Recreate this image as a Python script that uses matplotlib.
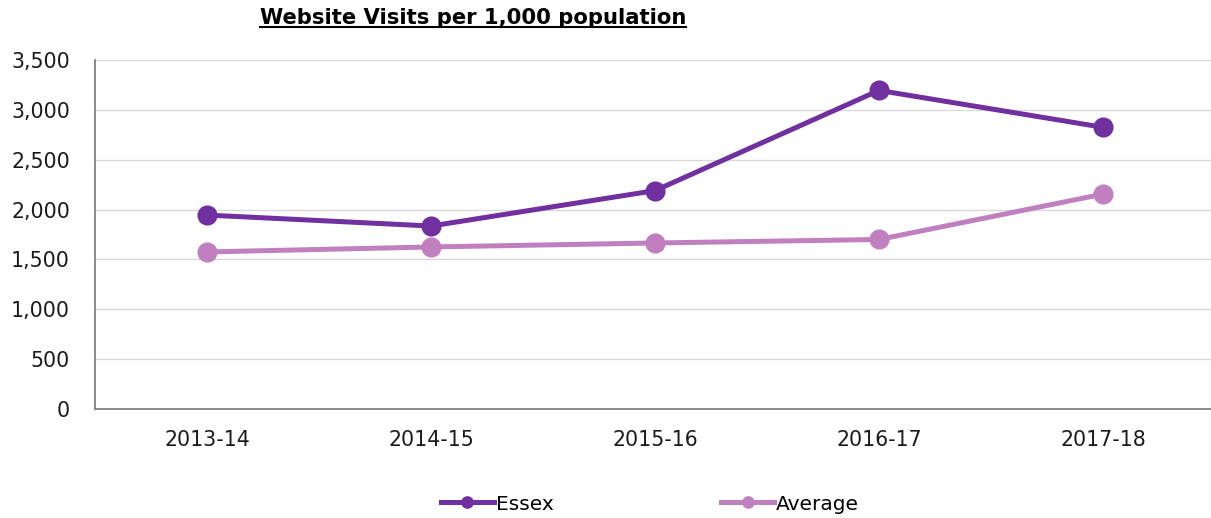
import matplotlib
matplotlib.use("Agg")
import matplotlib.pyplot as plt
from matplotlib.lines import Line2D

categories = ["2013-14", "2014-15", "2015-16", "2016-17", "2017-18"]
essex = [1945, 1835, 2190, 3195, 2825]
average = [1575, 1625, 1665, 1700, 2155]
yticks = [0, 500, 1000, 1500, 2000, 2500, 3000, 3500]

plt.rcParams['font.family'] = ['DejaVu Sans']
fig = plt.figure(figsize=(12.11, 5.18), dpi=100)
ax = fig.add_axes([95/1211, 1-409/518, 1120/1211, 349/518])

x = list(range(len(categories)))
ax.plot(x, essex, color="#7030A0", lw=3.6, marker="o", ms=13.5, label="Essex", zorder=3)
ax.plot(x, average, color="#C080C0", lw=3.6, marker="o", ms=13.5, label="Average", zorder=3)

ax.set_xlim(-0.5, 4.5)
ax.set_ylim(0, 3500)
ax.set_xticks(x)
ax.set_xticklabels(categories, fontsize=14.8, color="#1a1a1a")
ax.set_yticks(yticks)
ax.set_yticklabels([f"{v:,}" for v in yticks], fontsize=14.8, color="#1a1a1a")
ax.tick_params(length=0)
ax.tick_params(axis='y', pad=18)
ax.tick_params(axis='x', pad=15)
ax.yaxis.grid(True, color="#D9D9D9", lw=1)
ax.set_axisbelow(True)
for s in ["top", "right"]:
    ax.spines[s].set_visible(False)
for s in ["left", "bottom"]:
    ax.spines[s].set_color("#808080")
    ax.spines[s].set_linewidth(1.3)

leg = fig.legend(loc="center", bbox_to_anchor=(650/1211, 1-504/518), ncol=2, frameon=False,
                 fontsize=14.5, handlelength=2.65, columnspacing=8.3, handletextpad=0.1,
                 markerscale=0.6)

t = fig.text(473/1211, 1-18/518, "Website Visits per 1,000 population", ha="center", va="center",
             fontsize=15.2, fontweight="bold", color="black")
fig.canvas.draw()
bb = t.get_window_extent()
inv = fig.transFigure.inverted()
(x0, y0), (x1, y1) = inv.transform([(bb.x0, bb.y0), (bb.x1, bb.y0)])
fig.add_artist(Line2D([x0, x1], [y0 + 1.5/518, y0 + 1.5/518], color="black", lw=1.5, transform=fig.transFigure))

fig.savefig("out.png", dpi=100)
